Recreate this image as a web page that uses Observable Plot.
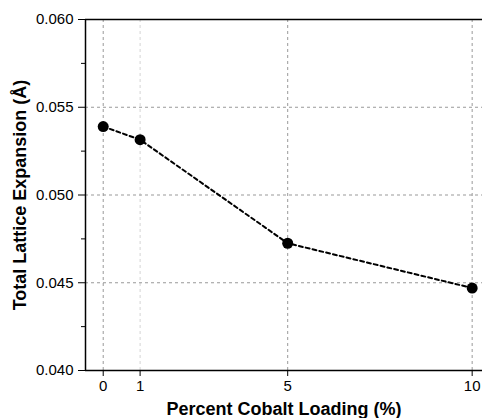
<!DOCTYPE html>
<html>
<head>
<meta charset="utf-8">
<script src="https://cdn.jsdelivr.net/npm/d3@7"></script>
<script src="https://cdn.jsdelivr.net/npm/@observablehq/plot@0.6"></script>
<style>
  html, body { margin: 0; padding: 0; background: white; }
</style>
</head>
<body>
<div id="chart"></div>
<script>
const loading = [0, 1, 5, 10];
const expansion = [0.0539, 0.05315, 0.04725, 0.0447];
const xTicks = [0, 1, 5, 10];
const xGridDark = [0, 5, 10];
const xGridLight = [1];
const yTicks = [0.040, 0.045, 0.050, 0.055, 0.060];
const yMinor = [0.0425, 0.0475, 0.0525, 0.0575];
const yGrid = [0.045, 0.050, 0.055];
const xDomain = [-0.48, 10.28];
const yDomain = [0.040, 0.060];
const xTitle = "Percent Cobalt Loading (%)";
const yTitle = "Total Lattice Expansion (Å)";

const data = loading.map((x, i) => ({x, y: expansion[i]}));

const chart = Plot.plot({
  width: 483,
  height: 418,
  marginLeft: 85,
  marginTop: 19,
  marginBottom: 48,
  marginRight: 1,
  x: {domain: xDomain},
  y: {domain: yDomain},
  style: {fontFamily: "'Liberation Sans', Arial, sans-serif", fontSize: "15px", color: "black", background: "white"},
  marks: [
    Plot.ruleX(xGridDark, {stroke: "#999", strokeDasharray: "3,3", strokeWidth: 1}),
    Plot.ruleX(xGridLight, {stroke: "#d4d4d4", strokeDasharray: "3,3", strokeWidth: 1}),
    Plot.ruleY(yGrid, {stroke: "#999", strokeDasharray: "3,3", strokeWidth: 1}),
    Plot.axisX({ticks: xTicks, tickSize: 6, tickPadding: 4, tickFormat: d3.format("d"), label: null, fontSize: 15}),
    Plot.axisY({ticks: yTicks, tickSize: 7, tickPadding: 5, tickFormat: d3.format(".3f"), label: null, fontSize: 15}),
    Plot.axisY({ticks: yMinor, tickSize: 4, tickFormat: () => "", label: null}),
    Plot.ruleX([xDomain[0]], {stroke: "black", strokeWidth: 1.5}),
    Plot.ruleY(yDomain, {stroke: "black", strokeWidth: 1.5}),
    Plot.line(data, {x: "x", y: "y", stroke: "black", strokeWidth: 2, strokeDasharray: "4,3"}),
    Plot.dot(data, {x: "x", y: "y", r: 5.5, fill: "black", stroke: "none"}),
    Plot.text([xTitle], {frameAnchor: "bottom", dy: 44, fontWeight: "bold", fontSize: 18, lineAnchor: "bottom", textAnchor: "middle"}),
    Plot.text([yTitle], {frameAnchor: "left", dx: -65, rotate: -90, fontWeight: "bold", fontSize: 18, textAnchor: "middle"})
  ]
});
document.getElementById("chart").appendChild(chart);
</script>
</body>
</html>
